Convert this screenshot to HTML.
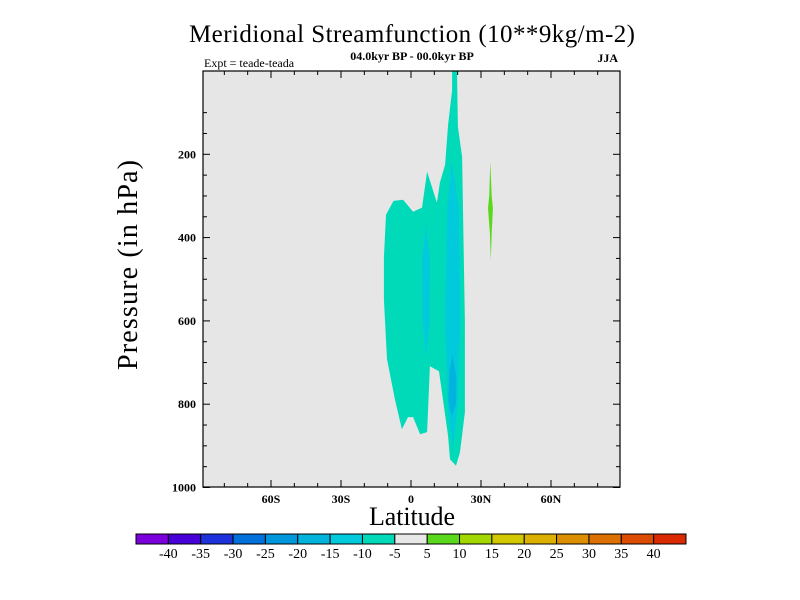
<!DOCTYPE html>
<html><head><meta charset="utf-8"><style>
html,body{margin:0;padding:0;background:#fff;}
svg{display:block;font-family:"Liberation Serif",serif;}
</style></head><body>
<svg id="chart" width="800" height="600" viewBox="0 0 800 600">
<rect width="800" height="600" fill="#fff"/>
<text x="412" y="42" font-size="25" text-anchor="middle" textLength="446">Meridional Streamfunction (10**9kg/m-2)</text>
<text x="412" y="60" font-size="12" text-anchor="middle" font-weight="bold">04.0kyr BP - 00.0kyr BP</text>
<text x="204" y="67" font-size="12">Expt = teade-teada</text>
<text x="618" y="62" font-size="12" text-anchor="end" font-weight="bold">JJA</text>
<rect x="203" y="71" width="417" height="416" fill="#e6e6e6"/>
<g id="contours"></g>
<g id="axes"></g>
<rect x="203" y="71" width="417" height="416" fill="none" stroke="#000" stroke-width="1.2"/>
<text transform="translate(137,265) rotate(-90)" font-size="28" text-anchor="middle" textLength="210">Pressure (in hPa)</text>
<text x="412" y="525" font-size="26" text-anchor="middle" textLength="86">Latitude</text>
<g id="colorbar"></g>
</svg>
<script>
const latTicks=[-60,-30,0,30,60];
const latLabels=["60S","30S","0","30N","60N"];
const presTicks=[200,400,600,800,1000];
const cbLevels=[-40,-35,-30,-25,-20,-15,-10,-5,5,10,15,20,25,30,35,40];
const cbColors=["#7c00dc","#4800d8","#1e32dc","#0070dc","#0096dc","#00b4dc","#00cadb","#00dab8","#e8e8e8","#5ad81c","#a2d800","#d2c800","#dcb000","#dc9000","#dc7000","#dc4c00","#dc2a00"];
// contour polygons in (lat, hPa)
const outerLat=[17.6,19.7,20.1,21.9,23.1,23.1,21,19.3,16.7,15.9,12,8.1,6.9,3.9,0.9,-1.3,-3.9,-6.9,-10.3,-11.6,-11.6,-10.7,-7.5,-3.4,0.9,4.7,6.9,11.1,12.4,14.6,15.9,17.6];
const outerP=[0,0,134,206,604,819,915,948,932,877,721,709,867,872,831,831,860,788,692,548,448,345,312,309,338,328,242,316,268,225,129,46];
const inner1aLat=[6.5,8.1,8,6.5,5,4.7];
const inner1aP=[370,450,600,690,600,450];
const inner1bLat=[17.5,20.5,21,20,18,16,14.6,15.5];
const inner1bP=[215,330,600,800,905,820,600,330];
const inner2Lat=[17.8,19.5,19.3,17.5,16,16.5];
const inner2P=[680,740,800,830,790,720];
const greenLat=[34,34.6,35.1,34.6,34.2,33.8,33,33.5];
const greenP=[218,300,330,390,455,390,330,300];

const NS="http://www.w3.org/2000/svg";
const X=lat=>411+lat*7/3;
const Y=p=>71+p*0.4165;
function mk(tag,attrs,parent){const e=document.createElementNS(NS,tag);for(const k in attrs)e.setAttribute(k,attrs[k]);parent.appendChild(e);return e;}
const cg=document.getElementById('contours');
function poly(lats,ps,color,name){
  const pts=lats.map((l,i)=>X(l).toFixed(1)+","+Y(ps[i]).toFixed(1)).join(" ");
  const e=mk('polygon',{points:pts,fill:color},cg);
  
  
}
poly(outerLat,outerP,"#00dab8","contour-minus5-to-minus10");
poly(inner1aLat,inner1aP,"#00cadb","contour-minus10-to-minus15-south");
poly(inner1bLat,inner1bP,"#00cadb","contour-minus10-to-minus15-north");
poly(inner2Lat,inner2P,"#00b4dc","contour-minus15-to-minus20");
poly(greenLat,greenP,"#5ad81c","contour-5-to-10");

const ag=document.getElementById('axes');
for(let l=-80;l<=80;l+=10){
  const major=latTicks.includes(l);const len=major?7:4;
  mk('line',{x1:X(l),x2:X(l),y1:487,y2:487-len,stroke:"#000"},ag);
  mk('line',{x1:X(l),x2:X(l),y1:71,y2:71+len,stroke:"#000"},ag);
}
latTicks.forEach((l,i)=>{
  const t=mk('text',{x:X(l),y:503,"font-size":12,"text-anchor":"middle","font-weight":"bold"},ag);
  t.textContent=latLabels[i];
  
  
});
for(let p=100;p<=1000;p+=50){
  const major=presTicks.includes(p);const len=major?7:4;
  mk('line',{x1:203,x2:203+len,y1:Y(p),y2:Y(p),stroke:"#000"},ag);
  mk('line',{x1:620,x2:620-len,y1:Y(p),y2:Y(p),stroke:"#000"},ag);
}
presTicks.forEach(p=>{
  const t=mk('text',{x:196,y:Y(p)+4,"font-size":12,"text-anchor":"end","font-weight":"bold"},ag);
  t.textContent=p;
  
  
});

const cb=document.getElementById('colorbar');
const cbx=136,cbw=550,cby=534,cbh=10,bw=cbw/cbColors.length;
cbColors.forEach((c,i)=>{
  const r=mk('rect',{x:cbx+i*bw,y:cby,width:bw,height:cbh,fill:c,stroke:"#000","stroke-width":1},cb);
  
  
});
cbLevels.forEach((v,i)=>{
  const t=mk('text',{x:cbx+(i+1)*bw,y:558,"font-size":14,"text-anchor":"middle"},cb);
  t.textContent=v;
  
  
});
</script>
</body></html>
